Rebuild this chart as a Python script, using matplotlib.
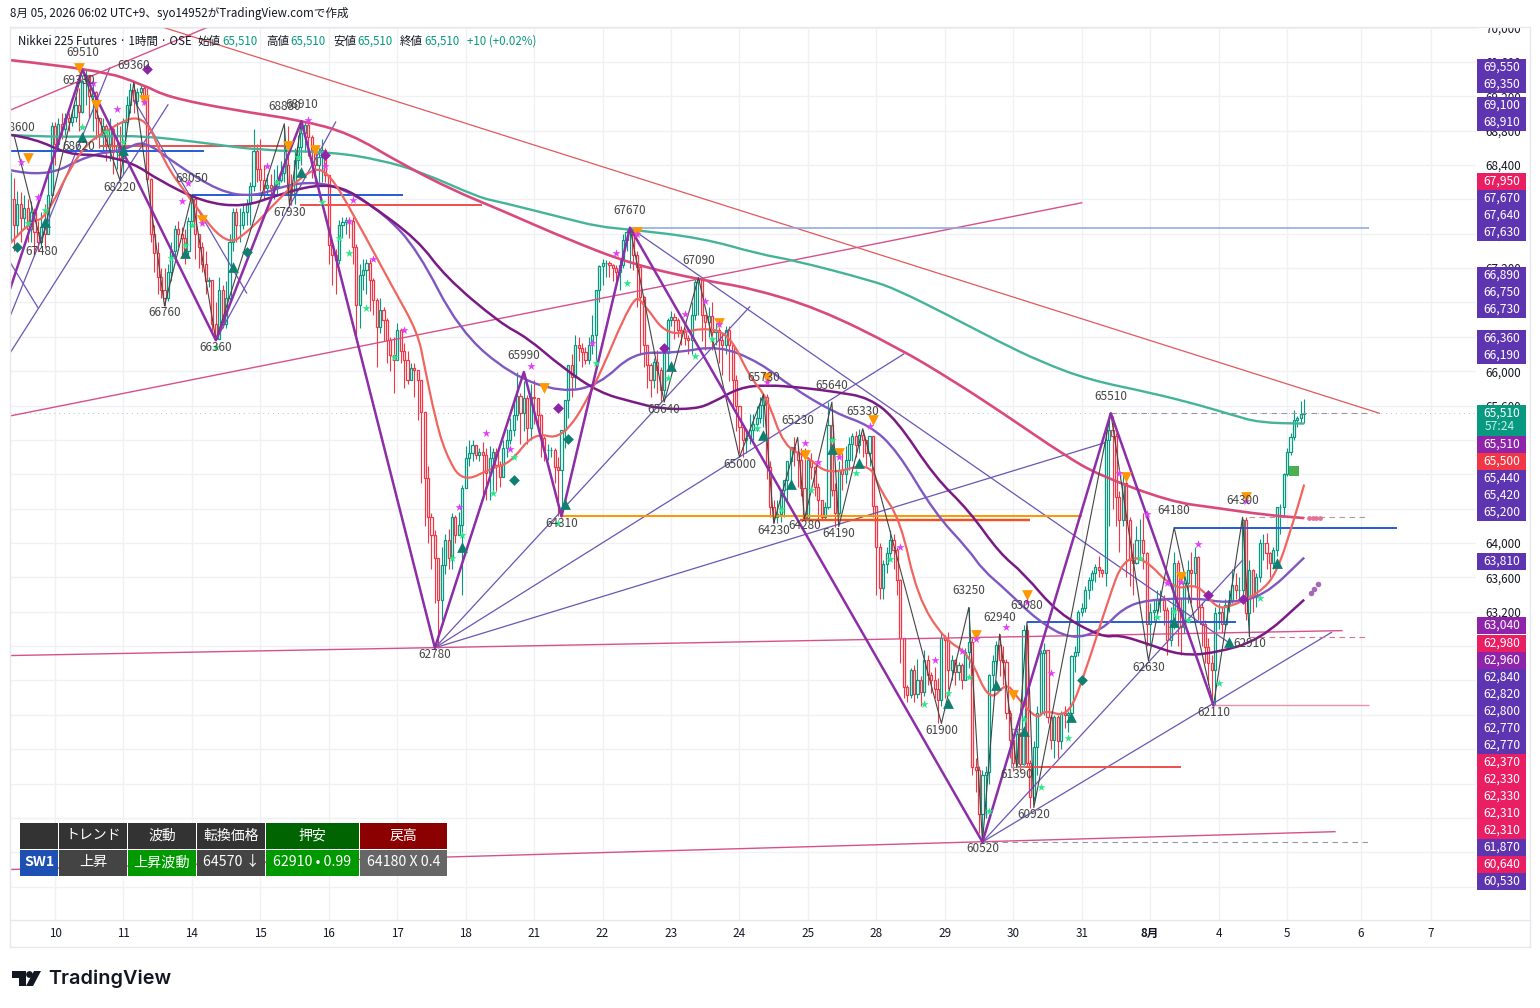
import numpy as np
import matplotlib
matplotlib.use("Agg")
import matplotlib.pyplot as plt
from matplotlib.patches import Rectangle, Polygon, Circle, PathPatch
from matplotlib.path import Path

plt.rcParams['font.family'] = ['Noto Sans CJK JP', 'DejaVu Sans']

## Candles, one line per session (first line is the tail of the previous session)
closes = [
    68000,67700,67950,67780,67900,67650,67850,67620,67500,67680,67600,68050,68850,
    68650,68880,68820,68950,68900,68960,69100,69020,69380,69450,69200,69250,68950,68750,68850,68650,68820,68550,68620,68480,
    68900,69100,69270,69150,69250,69300,69200,68240,67600,67380,67100,66950,66850,67150,67400,67650,67600,67550,67400,67750,
    68000,67600,67450,67250,67050,67060,66550,66380,66950,66550,66850,67500,67850,67700,67700,67850,67950,68150,68560,68350,
    68230,68130,68170,68130,68160,68230,68310,68400,68130,68070,68460,68610,68770,68860,68720,68570,68400,68490,68570,68280,
    67470,67350,67290,67700,67740,67760,67750,67450,66770,67120,67180,67260,67060,66830,66510,66710,66600,66360,66190,66130,
    66480,66230,66130,65900,66040,66010,65900,65520,64760,64300,64090,63820,63340,63740,64040,63830,64300,64090,64210,64640,
    64990,65050,65140,65020,65060,65020,64810,64990,65060,64910,64770,65110,65200,65320,65490,65710,65510,65690,65340,65700,
    65690,65490,65220,65080,65080,65080,64880,64850,65320,65660,66070,65930,66310,66270,66220,66130,66300,66420,66950,67220,
    67260,67260,67230,67200,67150,67240,67530,67620,67620,67350,67210,66860,66300,66070,65900,66110,66010,65780,66210,66600,
    66630,66600,66480,66460,66390,66360,66650,67040,67060,66650,66570,66640,66460,66480,66360,66300,66480,66300,65900,65590,
    65350,65200,65220,65320,65380,65460,65610,65700,64880,64420,64300,64340,64620,64730,64950,65120,65060,64970,64640,64290,
    64970,64880,64650,64500,64300,64420,65370,64620,64350,64850,64800,64970,65150,65240,65140,65260,65200,65050,65240,64430,
    63950,63480,63750,63880,64040,63920,63570,62900,62320,62230,62520,62240,62410,62260,62640,62460,62400,62300,62170,62900,
    62870,62520,62640,62500,62580,62410,62730,62850,61390,61360,60850,61300,61340,62460,62630,62810,62640,62620,62020,61710,
    61440,61780,61430,62990,61440,61040,61620,62020,62720,62750,61980,61710,61970,61700,62020,62000,62020,62680,62730,63200,
    63240,63450,63570,63650,63720,63690,63650,65200,65320,65240,64540,64270,64700,64270,63800,63770,64040,64040,63880,63060,
    63200,63220,63340,63340,63220,62870,63100,63770,63220,63020,63530,63690,63650,63840,63260,63060,62790,62600,62520,63190,
    63200,63060,63280,63340,63510,63450,63450,64270,63190,63690,63370,63610,64000,64000,63880,63770,63920,64420,64420,64800,
    65060,65230,65430,65450,65500,65510,
]
highs = [
    68320,68250,68100,68080,68050,68000,67980,67900,67750,67850,67950,68300,68900,
    68900,68950,69000,69000,69000,69040,69200,69300,69450,69510,69350,69350,69260,68950,68950,68880,68950,68850,68900,68850,
    68950,69200,69350,69350,69300,69330,69320,69300,68250,67700,67500,67200,67200,67250,67500,67700,67750,67680,67650,67800,
    68050,68010,67600,67500,67400,67100,67060,66800,67100,67000,67050,67600,67900,67900,67900,67950,68000,68200,68820,68650,
    68700,68400,68300,68300,68350,68400,68450,68850,68850,68300,68600,68750,68850,68910,68900,68750,68600,68600,68700,68600,
    67720,67480,67420,67760,67800,67800,67800,67800,67480,67250,67300,67310,67300,67080,66850,66850,66750,66620,66400,66400,
    66560,66500,66330,66230,66100,66100,66010,65900,65520,64900,64350,64150,63820,63950,64100,64160,64350,64330,64360,64680,
    65130,65200,65200,65080,65100,65180,65100,65130,65110,65100,64950,65200,65330,65450,65700,65990,65750,65880,65720,65850,
    65900,65690,65500,65250,65150,65120,65100,65000,65320,65660,66070,66200,66420,66400,66330,66280,66400,66650,66950,67230,
    67300,67290,67280,67250,67230,67300,67600,67670,67670,67630,67400,67220,66880,66310,66100,66150,66250,66050,66250,66620,
    66700,66680,66620,66530,66500,66420,66800,67090,67090,67060,66650,66750,66800,66560,66560,66450,66520,66520,66320,65950,
    65600,65350,65300,65500,65500,65600,65700,65730,65730,64950,64500,64500,64350,64650,64800,65000,65230,65130,65100,65100,
    65000,65050,64900,64700,64500,64480,65640,65480,64700,64950,65050,65130,65230,65280,65300,65330,65320,65200,65250,65250,
    64320,64000,63800,63950,64150,64100,63950,63580,62900,62350,62550,62580,62650,62450,62760,62700,62500,62560,62430,62960,
    62930,62960,62700,62650,62620,62600,62780,63250,62900,61500,61400,61360,61400,62480,62700,62860,62940,62800,62650,62060,
    61780,61820,61800,63040,63040,61480,61700,62100,62750,62840,62750,62000,62000,62000,62050,62100,62050,62700,62800,63220,
    63300,63500,63600,63680,63760,63850,63700,65300,65510,65480,65280,64600,64800,64750,64300,64000,64200,64280,64350,63900,
    63300,63350,63450,63450,63400,63250,63250,63900,63800,63350,63650,63800,63900,63950,63850,63300,63100,62900,62700,63250,
    63300,63250,63350,63450,63700,63650,63600,64280,64300,63800,63700,63650,64050,64100,64120,63900,63950,64420,64450,64820,
    65100,65280,65550,65480,65650,65680,
]
lows = [
    67500,67400,67600,67500,67650,67500,67500,67350,67400,67450,67450,67600,68050,
    68400,68600,68700,68750,68800,68850,68900,68800,69000,69100,68950,68800,68700,68600,68550,68450,68450,68300,68350,68220,
    68300,68850,69000,69000,69080,69180,69100,68200,67500,67150,66900,66850,66760,66820,67050,67300,67450,67350,67250,67350,
    67700,67300,67200,67150,66900,66980,66450,66360,66400,66500,66500,66800,67400,67500,67500,67650,67700,67700,68100,68200,
    68100,68000,68050,68000,68000,68050,68200,68200,68050,67930,67950,68350,68400,68550,68500,68250,68150,68200,68200,68200,
    67250,67000,66900,67250,67550,67600,67550,67250,66400,66500,66950,66900,66700,66650,66050,66450,66350,66100,66000,65750,
    66270,66100,65800,65850,65900,65700,65430,64700,64200,64000,63700,63300,62780,63100,63640,63700,63700,64000,64100,63400,
    64650,64900,64950,64980,64950,64550,64500,64500,64600,64600,64650,64900,65000,65150,65250,65430,65150,65300,65150,65200,
    65380,65300,65000,64950,64970,65000,64700,64310,64400,65100,65450,65700,65800,66120,66050,66080,66080,66200,66100,66800,
    67000,67100,67100,67050,67050,66950,67200,67400,67200,67180,66750,66200,66050,65800,65700,65800,65750,65640,65700,66000,
    66520,66380,66400,66300,66300,66200,66200,66600,66650,66350,66250,66400,66250,66300,66100,65950,66200,65880,65580,65300,
    65050,65000,65050,65150,65200,65300,65400,65350,64750,64300,64230,64230,64250,64300,64500,64650,64900,64650,64550,64280,
    64650,64750,64550,64250,64280,64280,64400,64550,64190,64300,64620,64700,64850,64950,65000,65050,65000,64900,64900,64300,
    63400,63350,63350,63650,63800,63700,63400,62600,62200,62150,62200,62150,62200,62100,62220,62350,62250,62200,61900,62100,
    62200,62300,62400,62350,62400,62300,62400,62550,61300,61100,60620,60520,60800,61200,62300,62500,62450,62350,61950,61500,
    61350,61400,61350,61400,61400,60920,61000,61300,62000,62000,61900,61600,61500,61500,61600,61850,61800,62000,62500,62680,
    63150,63200,63350,63450,63550,63600,63600,63500,64200,64400,64200,63900,64200,63600,63500,63400,63750,63800,63700,62800,
    62800,63100,63180,63200,63050,62700,62800,63000,62800,62700,62950,63300,63300,63500,63100,62800,62600,62350,62110,62110,
    63000,62950,63000,63200,63300,63350,63350,63350,63100,62910,63200,63250,63550,63800,63700,63600,63700,63850,64100,64300,
    64780,65030,65200,65350,65400,65400,
]

## Moving averages, read at a few bars each
salmon_x = [0,6,10,20,28,39,45,52,63,70,78,88,93,100,112,119,121,124,127,132,141,146,153,161,170,182,185,192,202,210,216,221,226,233,239,251,254,260,265,273,280,286,291,294,300,302,309,314,321,325,331,340,347,352,356,365,370,375,378]
salmon_y = [67490,67760,67760,68570,68810,69020,68420,68030,67450,67640,67990,68370,68310,67840,66950,66450,66050,65470,65050,64700,64880,64930,65290,65200,65750,66890,66790,66400,66510,66440,65930,65700,65120,65000,64790,64940,64620,64270,63370,62870,62720,62140,62380,62210,61940,62060,61970,62490,63370,63800,63840,63450,63530,63250,63250,63420,63650,64270,64680]
green_x = [0,7,26,39,56,73,94,108,120,137,143,161,172,181,202,219,229,251,259,275,289,301,315,333,347,357,365,378]
green_y = [68750,68730,68730,68740,68660,68570,68550,68460,68320,68020,67970,67790,67680,67650,67550,67360,67290,67060,66950,66630,66340,66110,65900,65750,65610,65490,65400,65390]
pink_x = [0,26,39,46,65,85,99,114,129,143,163,182,202,216,236,259,275,290,308,318,339,352,366,378]
pink_y = [69620,69510,69330,69190,69040,68920,68770,68420,68110,67880,67530,67240,67060,66970,66730,66280,65900,65510,65020,64790,64480,64410,64330,64290]
dark_x = [0,7,17,26,36,43,56,68,78,89,97,104,119,127,143,151,161,172,182,190,200,205,213,221,231,241,251,259,270,280,289,296,306,319,324,332,342,352,365,378]
dark_y = [68750,68710,68520,68520,68420,68230,67970,67910,68050,68170,68140,67970,67530,67100,66560,66390,66050,65750,65640,65560,65560,65630,65810,65840,65810,65760,65690,65430,64770,64380,63880,63650,63180,62900,62930,62830,62690,62720,62870,63340]
violet_x = [0,10,23,33,39,48,61,71,81,89,97,109,119,131,146,161,172,182,194,207,219,228,241,251,259,270,280,284,291,300,310,319,325,332,347,355,366,378]
violet_y = [68340,68250,68520,68570,68690,68420,68090,68030,68170,68200,68130,67840,67410,66480,65960,65750,65840,66220,66210,66300,66100,65820,65510,65370,65080,64350,63920,63690,63450,63100,62870,62990,63240,63340,63360,63300,63370,63830]

## Big wave
wave_x = [0,21,60,85,124,150,161,181,284,321.5,351.5]
wave_y = [66970,69510,66360,68910,62780,65990,64310,67670,60520,65510,62110]

## Small swings with their labels
swing_x = [1,9,21,32,36,45,53,60,80,81.5,85,124,150,161,181,191,201,213,220,223,230,232,240,242,249,272,280,284,289,294,297,299,321.5,332.5,340,351.5,360,362]
swing_y = [68750,67480,69510,68220,69360,66760,68050,66360,68880,67930,68910,62780,65990,64310,67670,65640,67090,65000,65730,64230,65230,64280,65640,64190,65330,61900,63250,60520,62940,61390,63080,60920,65510,62630,64180,62110,64300,62910]
swing_up = [1,0,1,0,1,0,1,0,1,0,1,0,1,0,1,0,1,0,1,0,1,0,1,0,1,0,1,0,1,0,1,0,1,0,1,0,1,0]
extra_x = [20,20,2.5]
extra_y = [69380,68620,68840]
extra_text = ['69330','68620','68600']

## Thin straight lines: from bar, from price, to bar, to price
fan_lines = [
    (124,62780,216,66750),(124,62780,261,66200),(124,62780,320,65170),
    (181,67670,356,62840),(284,60520,386,62960),(284,60520,360,63800),
    (0,66220,46,69100),(0,66650,29,69530),(0,67260,8,66740),
    (36,69160,69,66910),(60,66360,95,68900),
]
rose_lines = [(0,65480,313,67960),(0,69040,58,70010),(0,62690,389,62980),(0,60200,387,60640)]
red_line = (44,70010,400,65510)

## Horizontal levels: price, from bar, to bar, colour, width
levels = [
    (67670,181,397,'#8fa8e0',1.6),(68620,26,82,'#ef5350',2),(68560,0,56.5,'#2a5fd8',2),
    (68050,53,114.7,'#2a5fd8',2),(67930,84.6,137.7,'#ef5350',2),(64310,160.5,313,'#ff9800',2),
    (64270,230.7,298,'#f4511e',2.4),(64180,340,405,'#2a5fd8',2),(63080,297,358,'#2a5fd8',2),
    (61390,294.4,342,'#ef5350',2),(62110,351.5,397,'#ef8fa8',1.4),
]
dashes = [(65510,321.5,397,'#9a94a8'),(64300,362,397,'#b09aa0'),(62910,362,397,'#e0708c'),(60520,284,397,'#9a94a8')]

## Signal marks
tri_down_x = [5,20,25,39,56,81,89,156,183,207,221,232,242,252,282,293,297,326,342,361]
tri_down_y = [68480,69530,69100,69160,67760,68620,68570,65800,67620,66560,65920,65020,65050,65430,62930,62230,63390,64770,63600,64530]
tri_up_x = [10,21,51,65,85,33,132,162,193,220,228,240,248,274,288,296,310,340,356,370]
tri_up_y = [67740,68730,67380,67210,68320,68570,63950,64450,66060,65260,64690,65090,64930,62140,62350,61810,61970,63080,62850,63770]
dia_teal_x = [2,69,147,163,313]
dia_teal_y = [67450,67390,64730,65210,62410]
dia_purple_x = [40,92,160,191,350,360]
dia_purple_y = [69520,68520,65570,66270,63400,63350]
star_pink_x = [3,8,24,31,39,52,50,56,75,87,92,100,99,106,115,131,139,146,152,170,177,183,197,203,207,221,232,236,242,251,260,270,278,282,291,297,304,324,332,338,342,347,361]
star_pink_y = [68430,68030,69350,69050,69130,68190,67980,67720,68390,68920,68390,67990,67750,67310,66480,64420,65280,65090,66060,66330,67380,67600,66670,66820,66550,65870,65160,64940,65000,65360,63950,62640,62740,62880,63020,63310,62490,64810,64340,63530,63550,63990,64490]
star_green_x = [5,10,21,28,33,47,51,53,60,78,84,91,96,99,104,112,129,132,141,147,160,171,180,192,200,205,218,225,234,240,247,257,267,274,280,286,296,301,309,330,335,340,344,353,365]
star_green_y = [67720,67880,68840,68780,68670,67320,67470,67700,66280,68200,68490,67970,67550,67380,66740,66170,63830,64090,64580,65000,64230,66100,67030,65920,66180,66370,65340,64400,64620,65200,64810,63810,62130,62250,62440,60880,61950,61160,61730,63830,63140,63210,63100,62370,63360]

## Axes text
day_ticks = [13,33,53,73,93,113,133,153,173,193,213,233,253,273,293,313,333,353,373,394.5,415]
day_labels = ['10','11','14','15','16','17','18','21','22','23','24','25','28','29','30','31','8月','4','5','6','7']

## Price badges on the right
badge_text = ['69,550','69,350','69,100','68,910','67,950','67,670','67,640','67,630','66,890','66,750','66,730','66,360','66,190',
              '65,510','65,500','65,440','65,420','65,200','63,810','63,040','62,980','62,960','62,840','62,820','62,800','62,770','62,770',
              '62,370','62,330','62,330','62,310','62,310','61,870','60,640','60,530']
badge_kind = ['b','b','b','b','c','b','b','b','b','b','b','b','b',
              'v','r','b','b','b','b','v','c','v','b','b','b','b','b',
              'c','c','c','c','c','b','c','b']
badge_row = [67,84,105,122,181,198,215,232,275,292,309,338,355,
             444,461,478,495,512,561,625,643,660,677,694,711,728,745,
             762,779,796,813,830,847,864,881]
badge_colors = {'b':'#5e35b1','c':'#e91e63','v':'#8e24aa','r':'#f23645'}

## Info table
table_head = ['','トレンド','波動','転換価格','押安','戻高']
table_body = ['SW1','上昇','上昇波動','64570 ↓','62910 • 0.99','64180 X 0.4']
head_colors = ['#333333','#333333','#333333','#333333','#006400','#8b0000']
body_colors = ['#1e50b4','#444444','#009900','#444444','#009900','#666666']
col_edges = [20,59,128,197,266,360,448]

closes = np.array(closes)
highs = np.array(highs)
lows = np.array(lows)
opens = np.r_[closes[0], closes[:-1]]
bars = np.arange(len(closes))


def draw_curve(ax, xs, ys, color, lw, z):
    # rounded line through the read values, corners become quadratic curves
    pts = np.column_stack([xs, ys]).astype(float)
    verts = [pts[0]]
    codes = [Path.MOVETO]
    for i in range(1, len(pts)-1):
        mid = (pts[i] + pts[i+1]) / 2
        verts += [pts[i], mid]
        codes += [Path.CURVE3, Path.CURVE3]
    verts.append(pts[-1])
    codes.append(Path.LINETO)
    ax.add_patch(PathPatch(Path(verts, codes), facecolor='none', edgecolor=color, lw=lw, zorder=z))


fig = plt.figure(figsize=(15.4, 10.08), dpi=100, facecolor='white')
ax = fig.add_axes([10/1540, (1008-920)/1008, 1466/1540, 893/1008])
ax.set_xlim(-0.15, 428.2)
ax.set_ylim(59612, 70006)
for s in ax.spines.values():
    s.set_visible(False)
ax.yaxis.tick_right()
price_ticks = np.arange(60000, 70001, 400)
ax.set_yticks(price_ticks)
ax.set_yticklabels(['' if v == 60000 else f'{v:,}' for v in price_ticks])
ax.set_xticks(day_ticks)
ax.set_xticklabels(day_labels)
ax.get_xticklabels()[16].set_fontweight('bold')
ax.tick_params(axis='both', length=0, labelsize=8.4, labelcolor='#131722')
ax.tick_params(axis='y', pad=6.5)
ax.tick_params(axis='x', pad=5)
ax.grid(True, color='#f0f1f4', lw=1)
ax.set_axisbelow(True)

# candles, hollow body with a coloured edge
up = closes >= opens
colors = np.where(up, '#089981', '#f23645')
ax.vlines(bars, lows, highs, colors=colors, lw=0.8, zorder=2)
ax.bar(bars, np.abs(closes-opens), bottom=np.minimum(opens, closes), width=0.62,
       facecolor='white', edgecolor=colors, lw=0.9, zorder=2.2)

# last price line
ax.axhline(65510, color='#b8bcc8', lw=0.7, ls=(0, (1, 4)), zorder=1.5)

for line in fan_lines:
    ax.plot([line[0], line[2]], [line[1], line[3]], color='#6a55b5', lw=0.9, zorder=3)
for line in rose_lines:
    ax.plot([line[0], line[2]], [line[1], line[3]], color='#d8508a', lw=1, zorder=3)
ax.plot([red_line[0], red_line[2]], [red_line[1], red_line[3]], color='#e2585c', lw=0.9, zorder=3)

for price, x0, x1, col, width in levels:
    ax.plot([x0, x1], [price, price], color=col, lw=width/1.39, zorder=3.2, solid_capstyle='butt')
for price, x0, x1, col in dashes:
    ax.plot([x0, x1], [price, price], color=col, lw=0.8, ls=(0, (5, 4)), zorder=3.2)
ax.add_patch(Rectangle((292.3, 61390), 3.7, 440, facecolor='none', edgecolor='#999999', lw=0.9, zorder=3.2))

draw_curve(ax, green_x, green_y, '#45b39a', 1.7, 3.5)
draw_curve(ax, pink_x, pink_y, '#d94a7a', 1.9, 3.6)
draw_curve(ax, violet_x, violet_y, '#7e57c2', 1.7, 3.7)
draw_curve(ax, dark_x, dark_y, '#7b1a85', 1.8, 3.8)
draw_curve(ax, salmon_x, salmon_y, '#f0655f', 1.6, 3.9)

ax.plot(swing_x, swing_y, color='#444444', lw=0.8, zorder=4)
ax.plot(wave_x, wave_y, color='#8e2da8', lw=1.8, zorder=4.2)

ax.scatter(tri_down_x, tri_down_y, marker='v', s=60, color='#ff9800', lw=0, zorder=5)
ax.scatter(tri_up_x, tri_up_y, marker='^', s=60, color='#0f7f6f', lw=0, zorder=5)
ax.scatter(dia_teal_x, dia_teal_y, marker='D', s=30, color='#0f7f6f', lw=0, zorder=5)
ax.scatter(dia_purple_x, dia_purple_y, marker='D', s=30, color='#8e24aa', lw=0, zorder=5)
ax.scatter(star_pink_x, star_pink_y, marker='*', s=38, color='#e040fb', lw=0, zorder=5)
ax.scatter(star_green_x, star_green_y, marker='*', s=38, color='#2ee68a', lw=0, zorder=5)
ax.scatter([375], [64840], marker='s', s=48, color='#4caf50', lw=0, zorder=5)
ax.scatter([379.5, 380.5, 381.5, 382.5], [64290]*4, marker='o', s=12, color='#e57399', lw=0, zorder=5)
ax.scatter([380, 381, 382], [63420, 63470, 63520], marker='o', s=16, color='#a56ab5', lw=0, zorder=5)

for x, y, txt, is_up in zip(swing_x, swing_y, swing_y, swing_up):
    if x == 1:
        continue
    ax.annotate(str(txt), (x, y), xytext=(0, 17 if is_up else -7), textcoords='offset pixels',
                ha='center', va='center', fontsize=8.5, color='#444444', zorder=6, annotation_clip=True)
for x, y, txt in zip(extra_x, extra_y, extra_text):
    ax.text(x, y, txt, ha='center', va='center', fontsize=8.5, color='#444444', zorder=6, clip_on=True)

# page furniture in pixel units
ov = fig.add_axes([0, 0, 1, 1], zorder=5)
ov.set_xlim(0, 1540)
ov.set_ylim(1008, 0)
ov.axis('off')
ov.patch.set_alpha(0)

ov.add_patch(Rectangle((1476, 15), 54, 12.5, color='white', lw=0))
frame = '#e6e8ee'
ov.plot([10, 1530, 1530, 10, 10], [27, 27, 947, 947, 27], color=frame, lw=1)
ov.plot([10, 1530], [920, 920], color=frame, lw=1)

ov.text(10, 14, '8月 05, 2026 06:02 UTC+9、syo14952がTradingView.comで作成', fontsize=8.35, color='#131722', va='center')
ov.text(18, 41.5, 'Nikkei 225 Futures · 1時間 · OSE', fontsize=8.3, color='#131722', va='center')
for lab_x, lab in zip([198, 266, 333, 400], ['始値', '高値', '安値', '終値']):
    ov.text(lab_x, 41.5, lab, fontsize=8.3, color='#131722', va='center')
    ov.text(lab_x+24, 41.5, '65,510', fontsize=8.3, color='#089981', va='center')
ov.text(467, 41.5, '+10 (+0.02%)', fontsize=8.3, color='#089981', va='center')

for txt, kind, row in zip(badge_text, badge_kind, badge_row):
    ov.add_patch(Rectangle((1477, row-8.5), 49, 17, color=badge_colors[kind], lw=0))
    ov.text(1502, row, txt, color='white', fontsize=8.7, ha='center', va='center')
ov.add_patch(Rectangle((1477, 405), 49, 31, color='#089981', lw=0))
ov.text(1502, 413, '65,510', color='white', fontsize=8.7, ha='center', va='center')
ov.text(1500, 427, '57:24', color='#c8f0e4', fontsize=8.7, ha='center', va='center')

for c in range(6):
    x0, x1 = col_edges[c], col_edges[c+1]-1
    ov.add_patch(Rectangle((x0, 823), x1-x0, 26, color=head_colors[c], lw=0))
    ov.add_patch(Rectangle((x0, 850), x1-x0, 26, color=body_colors[c], lw=0))
    ov.text((x0+x1)/2, 835.5, table_head[c], color='white', fontsize=10, ha='center', va='center')
    ov.text((x0+x1)/2, 862, table_body[c], color='white', fontsize=10.2, ha='center', va='center',
            fontweight='bold' if c == 0 else 'normal')

# logo
ov.add_patch(Polygon([(12, 971), (26, 971), (26, 986), (19, 986), (19, 978), (12, 978)], color='#131722', lw=0))
ov.add_patch(Circle((29.5, 974.5), 3.4, color='#131722', lw=0))
ov.add_patch(Polygon([(34, 971), (41, 971), (33, 986), (26, 986)], color='#131722', lw=0))
ov.text(48, 978.5, 'TradingView', fontsize=14.3, family=['Inter', 'DejaVu Sans'], fontweight='semibold', color='#131722', va='center')

fig.savefig('out.png', dpi=100)
